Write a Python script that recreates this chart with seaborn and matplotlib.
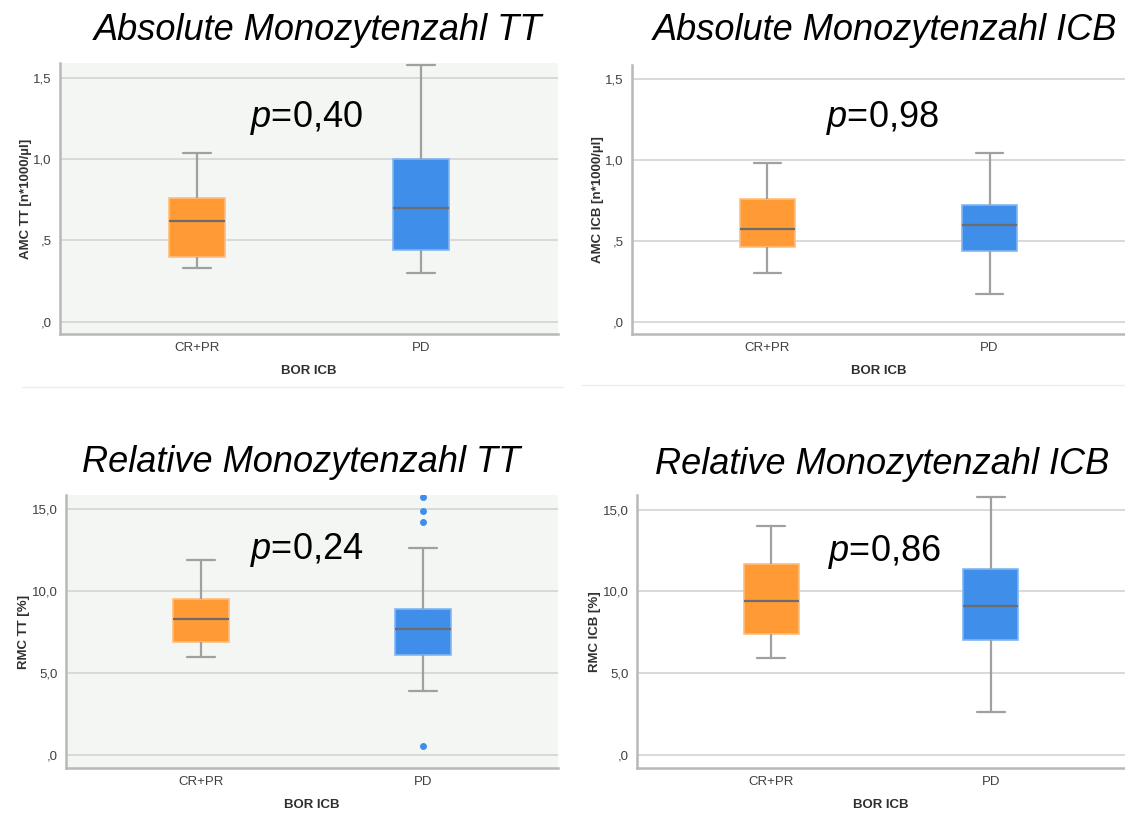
import numpy as np
import pandas as pd
import matplotlib.pyplot as plt
import seaborn as sns
from matplotlib.lines import Line2D

W, H = 1125, 813

groups = ["CR+PR", "PD"]
colors = {"CR+PR": "#FF9A35", "PD": "#3F8EEA"}

# values: lower whisker, Q1, median, Q3, upper whisker
amc_tt_crpr = [0.33, 0.40, 0.62, 0.76, 1.04]
amc_tt_pd = [0.30, 0.44, 0.70, 1.00, 1.58]
amc_icb_crpr = [0.30, 0.46, 0.57, 0.76, 0.98]
amc_icb_pd = [0.17, 0.44, 0.60, 0.72, 1.04]
rmc_tt_crpr = [6.0, 6.9, 8.3, 9.5, 11.9]
rmc_tt_pd = [3.9, 6.1, 7.7, 8.9, 12.6]
rmc_tt_pd_outliers = [0.55, 14.2, 14.9, 15.7]
rmc_icb_crpr = [5.9, 7.4, 9.4, 11.7, 14.0]
rmc_icb_pd = [2.6, 7.0, 9.1, 11.4, 15.8]

amc_ticks = [0, 0.5, 1.0, 1.5]
amc_ticklabels = [",0", ",5", "1,0", "1,5"]
rmc_ticks = [0, 5, 10, 15]
rmc_ticklabels = [",0", "5,0", "10,0", "15,0"]

titles = ["Absolute Monozytenzahl TT", "Absolute Monozytenzahl ICB",
          "Relative Monozytenzahl TT", "Relative Monozytenzahl ICB"]
pvalues = ["0,40", "0,98", "0,24", "0,86"]

sns.set_style("white")
plt.rcParams['font.family'] = ['Liberation Sans', 'DejaVu Sans']
plt.rcParams['mathtext.fontset'] = 'custom'
plt.rcParams['mathtext.it'] = 'Liberation Sans:italic'
plt.rcParams['mathtext.rm'] = 'Liberation Sans'

fig = plt.figure(figsize=(W / 100, H / 100), dpi=100)


def px_rect(left, right, top, bottom):
    return [left / W, 1 - bottom / H, (right - left) / W, (bottom - top) / H]


def lighten(c, amount=0.3):
    rgb = np.array(plt.matplotlib.colors.to_rgb(c))
    return tuple(rgb + (1 - rgb) * amount)


def panel(rect, crpr, pdv, ylabel, ticks, ticklabels, ylim, bg, outliers=None):
    ax = fig.add_axes(px_rect(*rect))
    df = pd.DataFrame({"group": ["CR+PR"] * len(crpr) + ["PD"] * len(pdv),
                       "value": crpr + pdv})
    sns.boxplot(data=df, x="group", y="value", hue="group", order=groups,
                hue_order=groups, palette=colors, saturation=1, width=0.25,
                whis=(0, 100), linecolor="#a0a0a0", linewidth=1.6, fliersize=0,
                legend=False, medianprops=dict(color="#6c6c6c", linewidth=1.6),
                ax=ax)
    for patch in ax.patches:
        patch.set_edgecolor(lighten(patch.get_facecolor()[:3], 0.35))
        patch.set_linewidth(1.2)
    if outliers is not None:
        sns.stripplot(x=["PD"] * len(outliers), y=outliers, order=groups,
                      jitter=False, color=colors["PD"], size=5, ax=ax)
    ax.set_xlim(-0.61, 1.61)
    ax.set_ylim(*ylim)
    ax.set_yticks(ticks)
    ax.set_yticklabels(ticklabels)
    ax.set_facecolor(bg)
    ax.yaxis.grid(True, color="#d9d9d9", linewidth=1.4)
    ax.set_axisbelow(True)
    for s in ["top", "right"]:
        ax.spines[s].set_visible(False)
    for s in ["left", "bottom"]:
        ax.spines[s].set_color("#b8b8b8")
        ax.spines[s].set_linewidth(1.8)
    ax.tick_params(length=0, labelsize=9.5, colors="#404040", pad=6)
    ax.tick_params(axis="x", pad=5.5)
    ax.set_xlabel("BOR ICB", fontsize=9.5, fontweight="bold", color="#303030", labelpad=8.5)
    ax.set_ylabel(ylabel, fontsize=9.5, fontweight="bold", color="#303030", labelpad=1)
    return ax


panel((60, 558, 63, 334), amc_tt_crpr, amc_tt_pd, "AMC TT [n*1000/µl]",
      amc_ticks, amc_ticklabels, (-0.075, 1.59), "#F4F6F3")
panel((632, 1125, 65, 334), amc_icb_crpr, amc_icb_pd, "AMC ICB [n*1000/µl]",
      amc_ticks, amc_ticklabels, (-0.075, 1.585), "white")
panel((66, 558, 495, 768), rmc_tt_crpr, rmc_tt_pd, "RMC TT [%]",
      rmc_ticks, rmc_ticklabels, (-0.8, 15.85), "#F4F6F3", rmc_tt_pd_outliers)
panel((637, 1125, 495, 768), rmc_icb_crpr, rmc_icb_pd, "RMC ICB [%]",
      rmc_ticks, rmc_ticklabels, (-0.8, 15.9), "white")

title_pos = [(318, 30), (885, 30), (301, 462), (882, 464)]
for t, (x, y) in zip(titles, title_pos):
    fig.text(x / W, 1 - y / H, t, fontsize=26, style="italic",
             ha="center", va="center", color="black")

p_pos = [(306, 118), (882, 118), (307, 550), (884, 552)]
for p, (x, y) in zip(pvalues, p_pos):
    fig.text(x / W, 1 - y / H, "$p$=" + p, fontsize=26,
             ha="center", va="center", color="black")

fig.add_artist(Line2D([22 / W, 563 / W], [1 - 387 / H] * 2, color="#ececec", lw=1))
fig.add_artist(Line2D([582 / W, 1125 / W], [1 - 385 / H] * 2, color="#ececec", lw=1))

fig.savefig("out.png", dpi=100)
